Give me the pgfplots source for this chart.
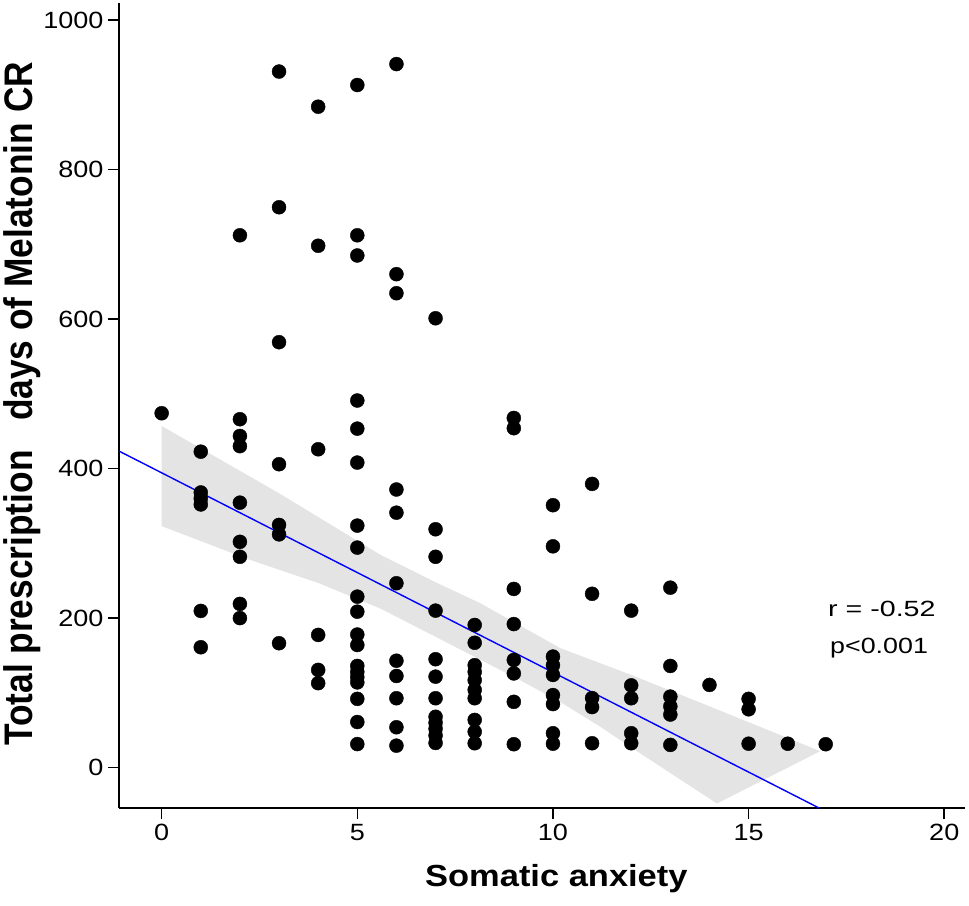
\documentclass[border=0pt]{standalone}
\usepackage{pgfplots}
\pgfplotsset{compat=1.18}
\usepackage{graphicx}
\usepackage{fontspec}
\setmainfont{Liberation Sans}
\definecolor{bandgray}{RGB}{228,228,228}
\begin{document}
\begin{tikzpicture}
\begin{axis}[
  scale only axis,
  width=846pt, height=805pt,
  xmin=-1.09, xmax=20.53,
  ymin=-54, ymax=1022.7,
  axis x line*=bottom, axis y line*=left,
  axis line style={line width=1.6pt, black},
  xtick={0,5,10,15,20},
  ytick={0,200,400,600,800,1000},
  tick align=outside,
  major tick length=11pt,
  tick style={line width=1.6pt, black},
  ticklabel style={font=\fontsize{23.5}{26}\selectfont},
  /pgf/number format/assume math mode=true,
  /pgf/number format/1000 sep={},
  xticklabel={\scalebox{1.15}[1]{\pgfmathprintnumber{\tick}}},
  yticklabel={\scalebox{1.15}[1]{\pgfmathprintnumber{\tick}}},
  yticklabel style={xshift=-1pt},
  xticklabel style={yshift=-2pt},
  xlabel={\scalebox{1.13}[1]{\fontsize{30.5}{34}\selectfont\bfseries Somatic anxiety}},
  xlabel style={at={(axis description cs:0.517,-0.0981)}, anchor=base},
  ylabel={\scalebox{1}[1.13]{\fontsize{35.3}{40}\selectfont\bfseries Total prescription\ \ \ days of Melatonin CR}},
  ylabel style={at={(axis description cs:-0.1017,0.502)}, anchor=base},
  clip=false,
]
% confidence band
\addplot[fill=bandgray, draw=none] coordinates {
 (0,457) (3,367) (5.58,285) (7,248) (8.14,220) (9.16,190) (10.18,160) (12,124) (14,82) (16.83,22)
 (14.19,-48) (12,27) (11.2,55) (10.18,88) (9.16,117) (7,175) (5.58,213) (4,247) (2.25,278) (0,323)
} -- cycle;
% regression line
\addplot[blue, line width=1.4pt] coordinates {(-1.09,423.4) (16.80,-54)};
% data points
\addplot[only marks, mark=*, mark size=7pt, black] coordinates {
(0,474)
(1,422.6) (1,368) (1,360) (1,352) (1,209.6) (1,161)
(2,712) (2,466) (2,443.6) (2,430) (2,354.4) (2,302) (2,282) (2,219) (2,200)
(3,931) (3,749.5) (3,569) (3,405.8) (3,324.6) (3,312) (3,166.4)
(4,884) (4,698) (4,425.8) (4,177.5) (4,130.7) (4,113)
(5,913) (5,712) (5,685) (5,491) (5,453.4) (5,408) (5,323.7) (5,294.3) (5,228.7) (5,208.6) (5,178) (5,164) (5,136) (5,128) (5,121) (5,114) (5,92) (5,61) (5,31.5)
(6,941) (6,660) (6,634.5) (6,372) (6,341) (6,246.6) (6,143) (6,122.6) (6,92.8) (6,54) (6,29.4)
(7,601) (7,318.8) (7,282) (7,210) (7,145) (7,121.7) (7,92.8) (7,68) (7,60) (7,52) (7,43) (7,33)
(8,190.8) (8,167) (8,137) (8,128) (8,117) (8,104) (8,92.8) (8,63.8) (8,48) (8,32.6)
(9,467.7) (9,454) (9,239) (9,192) (9,144) (9,126) (9,88) (9,31.3)
(10,351) (10,296) (10,148.5) (10,137) (10,124) (10,97) (10,85) (10,46) (10,32)
(11,379.5) (11,232.5) (11,93) (11,81) (11,32.6)
(12,210) (12,110) (12,92.8) (12,46) (12,32.6)
(13,240.7) (13,136) (13,95) (13,82) (13,71) (13,30.4)
(14,110.6)
(15,92) (15,78) (15,32)
(16,32)
(16.97,31.3)
};
\node[anchor=base west, inner sep=0pt, font=\fontsize{22}{26}\selectfont] at (axis cs:17.03,201.5) {\scalebox{1.3}[1]{r = -0.52}};
\node[anchor=base west, inner sep=0pt, font=\fontsize{22}{26}\selectfont] at (axis cs:17.08,152) {\scalebox{1.22}[1]{p<0.001}};
\end{axis}
\pgfresetboundingbox
\path[use as bounding box] (-119pt,-97pt) rectangle (850pt,808pt);
\end{tikzpicture}
\end{document}
